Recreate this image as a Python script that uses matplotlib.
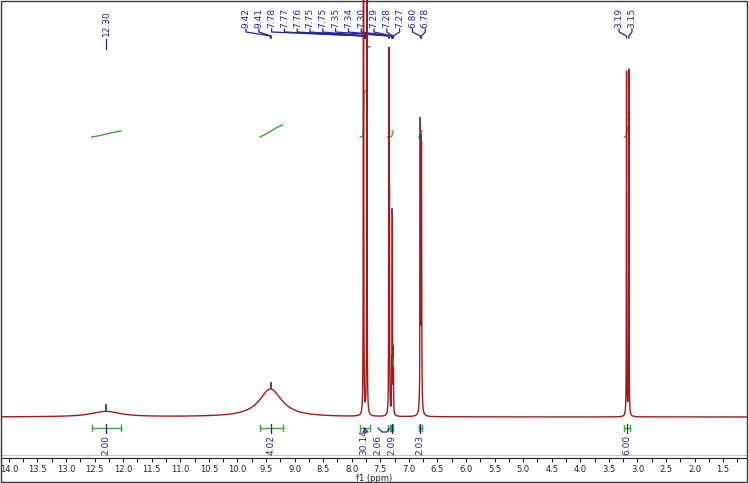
import numpy as np
import matplotlib.pyplot as plt
from matplotlib.patches import Rectangle
from matplotlib.ticker import MultipleLocator, FormatStrFormatter

# peak list: position (ppm), height above baseline, fwhm (ppm)
peak_ppm = [12.30, 9.42, 7.794, 7.735, 7.350, 7.340, 7.300, 7.290, 7.280, 7.270,
            6.800, 6.780, 3.190, 3.150]
peak_height = [5.5, 28, 4000, 4000, 352, 200, 40, 192, 50, 40,
               280, 262, 344, 346]
peak_fwhm = [0.60, 0.48, 0.0025, 0.0025, 0.006, 0.006, 0.006, 0.006, 0.006, 0.006,
             0.009, 0.009, 0.006, 0.006]

# peak picking labels (top)
label_groups = [
    ["12.30"],
    ["9.42", "9.41", "7.78", "7.77", "7.76", "7.75", "7.75", "7.35", "7.34",
     "7.30", "7.29", "7.28", "7.27", "6.80", "6.78"],
    ["3.19", "3.15"],
]
picked_tops = [12.30, 9.42, 7.29, 6.80, 6.78]

# integrals
integral_from = [12.55, 9.61, 7.85, 7.37, 7.32, 6.83, 3.23]
integral_to = [12.04, 9.21, 7.68, 7.33, 7.27, 6.77, 3.13]
integral_values = [2.00, 4.02, 30.14, 2.06, 2.09, 2.03, 6.00]

# layout
W, H = 749, 483
X0_PX, PX_PER_PPM = 8.9, 57.14          # 14.0 ppm sits at x=8.9 px
label_start = [12.30, 9.85, 3.32]
label_step = 0.224
BLUE = "#23239f"
GREEN = "#3aa63a"
RED = "#a31818"


def ppm_at(xpx):
    return 14.0 - (xpx - X0_PX) / PX_PER_PPM


def yv(ypx):
    # data units = pixels above the baseline row (y=417)
    return 417 - ypx


dppm = 1.0 / PX_PER_PPM

fig = plt.figure(figsize=(W / 100, H / 100), dpi=100)
ax = fig.add_axes([1 / W, (H - 458) / H, 746 / W, 458 / H])
ax.set_xlim(ppm_at(1), ppm_at(747))
ax.set_ylim(yv(458), yv(0))

# spectrum
x = np.arange(0.9, 14.3, 0.0004)
y = np.zeros_like(x)
for p, h, w in zip(peak_ppm, peak_height, peak_fwhm):
    y += h / (1 + ((x - p) / (w / 2)) ** 2)
ax.plot(x, y, color=RED, lw=1.0, zorder=3)

# integral curves + brackets
for a, b, val in zip(integral_from, integral_to, integral_values):
    m = (x <= a) & (x >= b)
    xs = x[m][::-1]
    cs = np.cumsum(y[m][::-1])
    ax.plot(xs, yv(137) + val * 3 * cs / cs[-1], color=GREEN, lw=1, zorder=2)
    ax.plot([a, b], [yv(428)] * 2, color=GREEN, lw=1, zorder=2)
    ax.plot([a, a], [yv(425), yv(431)], color=GREEN, lw=1, zorder=2)
    ax.plot([b, b], [yv(425), yv(431)], color=GREEN, lw=1, zorder=2)

# integral labels, pushed left when they would overlap
gap = 14 * dppm
mids = [(a + b) / 2 for a, b in zip(integral_from, integral_to)]
order = np.argsort(mids)
pos = {}
prev = None
for i in order:
    p = mids[i] if prev is None else max(mids[i], prev + gap)
    pos[i] = p
    prev = p
for i, val in enumerate(integral_values):
    p = pos[i]
    ax.text(p, yv(455), f"{val:.2f}", rotation=90, ha="center", va="bottom",
            fontsize=6.5, color=BLUE)
    if abs(p - mids[i]) < 0.02:
        ax.plot([p, p], [yv(424), yv(433)], color=BLUE, lw=0.9)
    else:
        ax.plot([p, p - 4 * dppm, mids[i] + 2 * dppm, mids[i]],
                [yv(428), yv(432), yv(432), yv(429)], color=BLUE, lw=0.9)

# peak labels and their connectors
for grp, start in zip(label_groups, label_start):
    for k, lab in enumerate(grp):
        lx = start - k * label_step
        tx = float(lab)
        if len(grp) == 1:
            # lone label: text sits lower with a plain dash under it
            ax.text(lx, yv(36), lab, rotation=90, ha="center", va="bottom",
                    fontsize=6.5, color=BLUE)
            ax.plot([lx, lx], [yv(39), yv(49)], color=BLUE, lw=0.9)
            continue
        ax.text(lx, yv(28), lab, rotation=90, ha="center", va="bottom",
                fontsize=6.5, color=BLUE)
        ax.plot([lx, lx, tx, tx], [yv(29), yv(32), yv(36), yv(38)],
                color=BLUE, lw=0.9)

# peak-pick markers
for p in picked_tops:
    top = np.interp(p, x, y)
    ax.plot([p, p], [top + 1, top + 6], color=BLUE, lw=1.2, zorder=4)

ax.axhline(yv(455), color="#c4c4c4", lw=0.8, zorder=1)

for s in ["left", "right", "top"]:
    ax.spines[s].set_visible(False)
ax.spines["bottom"].set_color("#222222")
ax.set_yticks([])
ax.xaxis.set_major_locator(MultipleLocator(0.5))
ax.xaxis.set_minor_locator(MultipleLocator(0.25))
ax.xaxis.set_major_formatter(FormatStrFormatter("%.1f"))
ax.tick_params(axis="x", which="both", direction="out", length=3, width=0.8,
               labelsize=6, pad=2, colors="#222222")
ax.set_xlabel("f1 (ppm)", fontsize=6, labelpad=0, color="#222222")

fig.add_artist(Rectangle((0.5 / W, 1.3 / H), 746.8 / W, 481.2 / H, fill=False,
                         ec="#3a3a3a", lw=1, transform=fig.transFigure))

fig.savefig("out.png", dpi=100)
